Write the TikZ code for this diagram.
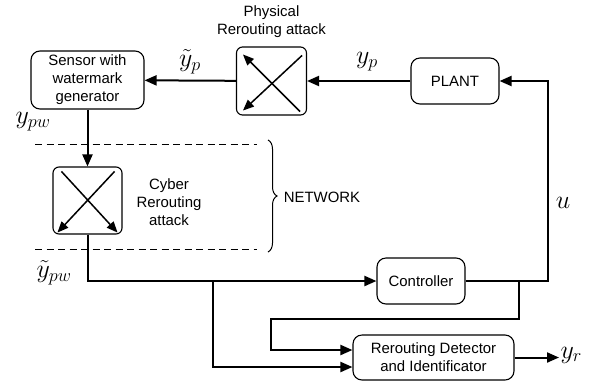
\documentclass[tikz,border=0pt]{standalone}
\RequirePackage{fix-cm}
\usepackage{fontspec}
\setmainfont{Liberation Sans}
\usetikzlibrary{arrows.meta}
\usetikzlibrary{calc}
\usetikzlibrary{math}
\usetikzlibrary{decorations.pathreplacing}

\begin{document}
\begin{tikzpicture}[x=1bp,y=-1bp,line width=1.1bp,
  font=\fontsize{15}{18}\selectfont,
  block/.style={draw,rounded corners=9bp,align=center,inner sep=0pt},
  attackbox/.style={draw,rounded corners=6bp,inner sep=0pt},
  conn/.style={line width=2bp,-{Triangle[length=12bp,width=10bp]}},
  cross/.style={line width=1.5bp,-{Triangle[length=11bp,width=9bp]}},
  netline/.style={line width=1bp,dash pattern=on 7bp off 4.5bp},
  sig/.style={font=\fontsize{26}{30}\selectfont,inner sep=1bp}]

  \tikzmath{
    \ybus = 281; % level of the controller bus
    \xu   = 548; % vertical return line u
    \xnet = 35;  % left end of the network lines
  }

  \useasboundingbox (0,0) rectangle (597,386);

  % blocks
  \node[block,minimum width=113bp,minimum height=58bp] (sensor) at (87.5,80)
    {Sensor with\\watermark\\generator};
  \node[attackbox,minimum width=70bp,minimum height=68bp] (phys) at (271.5,81) {};
  \node[block,minimum width=88bp,minimum height=46bp] (plant) at (455,81) {PLANT};
  \node[attackbox,minimum width=69bp,minimum height=67bp] (cyber) at (87.5,200.5) {};
  \node[block,minimum width=88bp,minimum height=46bp] (ctrl) at (421,\ybus) {Controller};
  \node[block,minimum width=161bp,minimum height=45bp] (det) at (433.5,357.5)
    {Rerouting Detector\\and Identificator};

  % texts
  \node[align=center] (physlab) at (271.5,22) {Physical\\Rerouting attack};
  \node[align=center] (cyberlab) at (169,202) {Cyber\\Rerouting\\attack};
  \node (netlab) at (322,197) {NETWORK};

  % signal names
  \node[sig] (yp)   at (367,62)  {$y_p$};
  \node[sig] (typ)  at (190,62)  {$\tilde{y}_p$};
  \node[sig] (ypw)  at (33,122)  {$y_{pw}$};
  \node[sig] (typw) at (54,273)  {$\tilde{y}_{pw}$};
  \node[sig] (u)    at (563,203) {$u$};
  \node[sig,anchor=west] (yr) at (559,355) {$y_r$};

  % rerouting inside the attack boxes
  \draw[cross] ($(phys.south east)+(-7,-4)$) -- ($(phys.north west)+(7,8)$);
  \draw[cross] ($(phys.north east)+(-5,9)$) -- ($(phys.south west)+(7,-5)$);
  \draw[cross] ($(cyber.north west)+(9,5)$) -- ($(cyber.south east)+(-5,-2)$);
  \draw[cross] ($(cyber.north east)+(-8,5)$) -- ($(cyber.south west)+(5,-2)$);

  % network region
  \draw[netline] (\xnet,144) -- (257,144);
  \draw[netline] (\xnet,249) -- (257,249);
  \draw[line width=1bp,decorate,decoration={brace,amplitude=9bp}] (268,140) -- (268,252);

  % loop
  \draw[conn] (plant) -- (phys);
  \draw[conn] (phys) -- (sensor);
  \draw[conn] (sensor) -- (cyber);
  \draw[conn] (cyber.south) |- (ctrl.west);
  \coordinate (ucorner) at (\xu,\ybus);
  \draw[conn] (ctrl.east) -- (ucorner) |- (plant.east);

  % detector inputs and output
  \coordinate (tapc) at (519,\ybus);
  \coordinate (tapd) at (213,\ybus);
  \draw[conn] (tapc) |- (271,319) |- ([yshift=7.5bp]det.west);
  \draw[conn] (tapd) |- ([yshift=-9.5bp]det.west);
  \draw[conn] (det.east) -- (det.east -| yr.west);

\end{tikzpicture}
\end{document}
